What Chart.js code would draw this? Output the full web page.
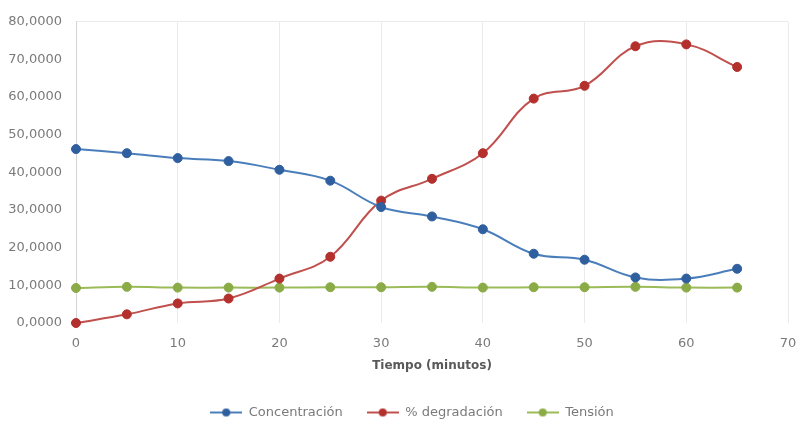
<!DOCTYPE html>
<html>
<head>
<meta charset="utf-8">
<script src="https://cdn.jsdelivr.net/npm/chart.js@4/dist/chart.umd.min.js"></script>
<style>
  html, body { margin: 0; padding: 0; background: #ffffff; }
  #wrap { width: 800px; height: 436px; }
</style>
</head>
<body>
<div id="wrap"><canvas id="chart" width="800" height="436"></canvas></div>
<script>
// Tiempo (minutos)
const tiempo = [0, 5, 10, 15, 20, 25, 30, 35, 40, 45, 50, 55, 60, 65];
// Series values
const concentracion = [46.2, 45.1, 43.8, 43.0, 40.7, 37.8, 30.8, 28.3, 24.9, 18.4, 16.8, 12.1, 11.8, 14.4];
const degradacion   = [0.0, 2.3, 5.2, 6.5, 11.8, 17.6, 32.5, 38.3, 45.1, 59.6, 63.0, 73.5, 74.0, 68.0];
const tension       = [9.3, 9.6, 9.4, 9.4, 9.4, 9.5, 9.5, 9.6, 9.4, 9.5, 9.5, 9.6, 9.4, 9.4];
const seriesNames = ['Concentración', '% degradación', 'Tensión'];
// Axis ranges
const xTicks = [0, 10, 20, 30, 40, 50, 60, 70];
const yTicks = [0, 10, 20, 30, 40, 50, 60, 70, 80];

const lineColors  = ['#4a7ebb', '#c0504d', '#9bbb59'];
const pointColors = ['#2f5f9e', '#b3302d', '#8aab45'];

const FONT = 'DejaVu Sans';

function toPoints(values) {
  return tiempo.map((t, i) => ({ x: t, y: values[i] }));
}

// Legend key: short line with a dot in the middle
function legendIcon(line, dot) {
  const c = document.createElement('canvas');
  c.width = 32; c.height = 10;
  const g = c.getContext('2d');
  g.strokeStyle = line; g.lineWidth = 2;
  g.beginPath(); g.moveTo(0, 5); g.lineTo(32, 5); g.stroke();
  g.fillStyle = dot;
  g.beginPath(); g.arc(16, 5, 4, 0, Math.PI * 2); g.fill();
  return c;
}
const icons = lineColors.map((c, i) => legendIcon(c, pointColors[i]));

// Center the legend under the plot area rather than the whole canvas
const legendUnderPlot = {
  id: 'legendUnderPlot',
  afterLayout(chart) {
    if (chart.legend) chart.legend.left = 24;
  }
};

const allSeries = [concentracion, degradacion, tension];
const datasets = allSeries.map((vals, i) => ({
  label: seriesNames[i],
  data: toPoints(vals),
  borderColor: lineColors[i],
  backgroundColor: pointColors[i],
  pointBackgroundColor: pointColors[i],
  pointBorderColor: pointColors[i],
  pointRadius: 4.5,
  pointBorderWidth: 1,
  borderWidth: 2,
  tension: 0.4,
  clip: false
}));

new Chart(document.getElementById('chart'), {
  type: 'line',
  data: { datasets },
  plugins: [legendUnderPlot],
  options: {
    responsive: false,
    animation: false,
    layout: { padding: { top: 16, right: 0, bottom: 7, left: 0 } },
    plugins: {
      tooltip: { enabled: false },
      legend: {
        position: 'bottom',
        labels: {
          usePointStyle: true,
          pointStyleWidth: 32,
          padding: 24,
          color: '#7a7a7a',
          font: { family: FONT, size: 13 },
          generateLabels(chart) {
            const base = Chart.defaults.plugins.legend.labels.generateLabels(chart);
            return base.map((l, i) => Object.assign(l, { pointStyle: icons[i] }));
          }
        }
      }
    },
    scales: {
      x: {
        type: 'linear',
        min: 0, max: 70,
        afterBuildTicks(scale) { scale.ticks = xTicks.map(v => ({ value: v })); },
        afterFit(scale) { scale.height = 59; scale.paddingRight = 12; },
        ticks: {
          padding: 13,
          color: '#7a7a7a',
          font: { family: FONT, size: 13 },
          callback: v => String(v)
        },
        grid: { color: '#ebebeb', drawTicks: false, lineWidth: 1 },
        border: { display: false },
        title: {
          display: true,
          text: 'Tiempo (minutos)',
          color: '#595959',
          font: { family: FONT, size: 12, weight: 'bold' },
          padding: { top: 0, bottom: 9 }
        }
      },
      y: {
        min: 0, max: 80,
        afterBuildTicks(scale) { scale.ticks = yTicks.map(v => ({ value: v })); },
        afterFit(scale) { scale.width = 76; },
        ticks: {
          padding: 14,
          color: '#7a7a7a',
          font: { family: FONT, size: 13 },
          callback: v => v.toFixed(4).replace('.', ',')
        },
        grid: {
          drawTicks: false,
          color: ctx => (ctx.tick && ctx.tick.value === 80 ? '#ebebeb' : 'rgba(0,0,0,0)')
        },
        border: { display: true, color: '#d4d4d4' }
      }
    }
  }
});
</script>
</body>
</html>
